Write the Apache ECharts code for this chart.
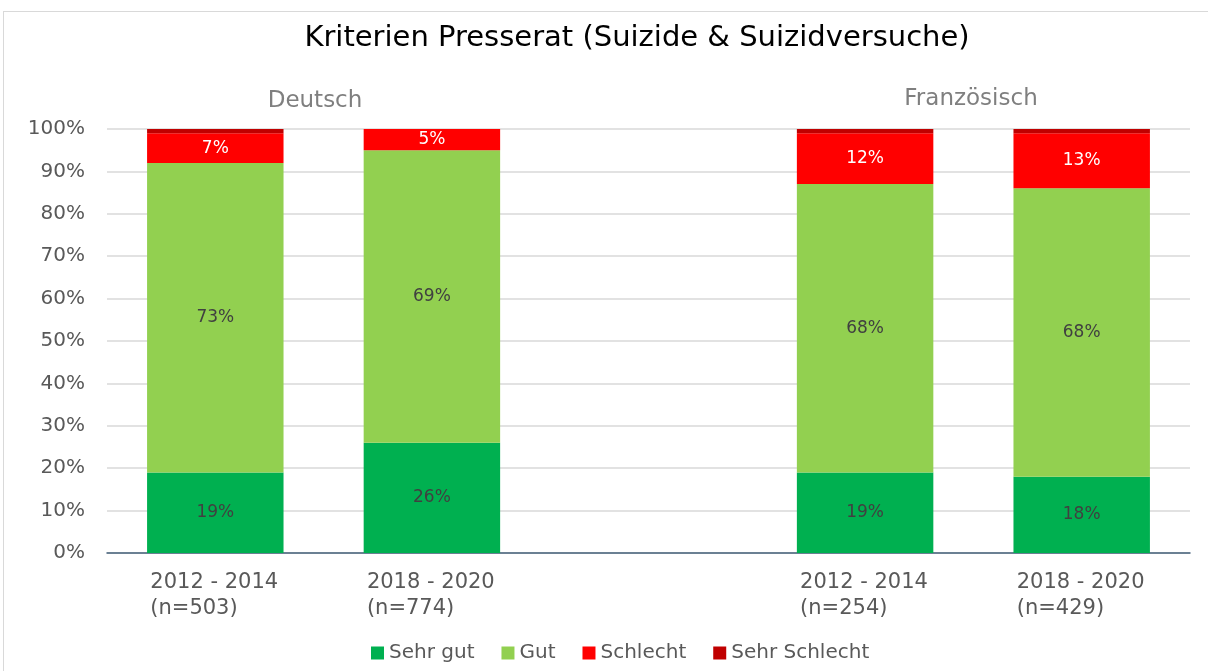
<!DOCTYPE html>
<html>
<head>
<meta charset="utf-8">
<script src="https://cdn.jsdelivr.net/npm/echarts@6/dist/echarts.min.js"></script>
<style>
  html, body { margin: 0; padding: 0; background: #fff; overflow: hidden; }
  #frame { position: absolute; left: 3px; top: 11px; width: 1220px; height: 680px;
           border: 1px solid #d9d9d9; box-sizing: border-box; }
  #chart { position: absolute; left: 0; top: 0; width: 1208px; height: 671px; }
</style>
</head>
<body>
<div id="frame"></div>
<div id="chart"></div>
<script>
// Periods per language region; the empty slot separates the two groups
const periods = ['2012 - 2014', '2018 - 2020', '', '2012 - 2014', '2018 - 2020'];
const sampleSizes = ['n=503', 'n=774', '', 'n=254', 'n=429'];
const groupNames = ['Deutsch', 'Französisch'];

// Shares in percent (null = empty separator slot)
const sehrGut      = [19, 26, null, 19, 18];
const gut          = [73, 69, null, 68, 68];
const schlecht     = [7, 5, null, 12, 13];
const sehrSchlecht = [1, 0.4, null, 1, 1];

const yTicks = [0, 10, 20, 30, 40, 50, 60, 70, 80, 90, 100];

const FONT = 'DejaVu Sans';
const chart = echarts.init(document.getElementById('chart'));

const categories = periods.map((p, i) => p ? p + '\n(' + sampleSizes[i] + ')' : '');

function barSeries(name, data, color, labelColor, showLabel) {
  return {
    name: name,
    type: 'bar',
    stack: 'total',
    data: data,
    barWidth: '63%',
    itemStyle: { color: color },
    label: {
      show: showLabel,
      position: 'inside',
      color: labelColor,
      fontFamily: FONT,
      fontSize: 17,
      formatter: p => p.value == null ? '' : Math.round(p.value) + '%'
    }
  };
}

chart.setOption({
  animation: false,
  title: [
    { text: 'Kriterien Presserat (Suizide & Suizidversuche)', left: 632, top: 19, textAlign: 'center',
      textStyle: { fontFamily: FONT, fontSize: 29, fontWeight: 'normal', color: '#000' } },
    { text: groupNames[0], left: 310, top: 85, textAlign: 'center',
      textStyle: { fontFamily: FONT, fontSize: 23, fontWeight: 'normal', color: '#7f7f7f' } },
    { text: groupNames[1], left: 966, top: 83, textAlign: 'center',
      textStyle: { fontFamily: FONT, fontSize: 23, fontWeight: 'normal', color: '#7f7f7f' } }
  ],
  legend: {
    bottom: 3,
    left: 366,
    itemWidth: 13,
    itemHeight: 13,
    itemGap: 27,
    icon: 'rect',
    textStyle: { fontFamily: FONT, fontSize: 20, color: '#595959' },
    data: ['Sehr gut', 'Gut', 'Schlecht', 'Sehr Schlecht']
  },
  grid: { left: 107, right: 18, top: 129, bottom: 118 },
  xAxis: {
    type: 'category',
    data: categories,
    axisTick: { show: false },
    axisLine: { lineStyle: { color: '#44607a', width: 1.5 } },
    axisLabel: {
      interval: 0,
      margin: 17,
      formatter: v => v ? '{a|' + v + '}' : '',
      rich: {
        a: { fontFamily: FONT, fontSize: 21, color: '#595959', width: 130, align: 'left', lineHeight: 26 }
      }
    }
  },
  yAxis: {
    type: 'value',
    min: 0,
    max: 100,
    interval: 10,
    axisLine: { show: false },
    axisTick: { show: false },
    splitLine: { lineStyle: { color: '#d9d9d9', width: 1.5 } },
    axisLabel: {
      margin: 22,
      fontFamily: FONT,
      fontSize: 20,
      color: '#595959',
      formatter: v => yTicks.includes(v) ? v + '%' : ''
    }
  },
  series: [
    barSeries('Sehr gut', sehrGut, '#00b050', '#404040', true),
    barSeries('Gut', gut, '#92d050', '#404040', true),
    barSeries('Schlecht', schlecht, '#ff0000', '#ffffff', true),
    barSeries('Sehr Schlecht', sehrSchlecht, '#c00000', '#ffffff', false)
  ]
});
</script>
</body>
</html>
